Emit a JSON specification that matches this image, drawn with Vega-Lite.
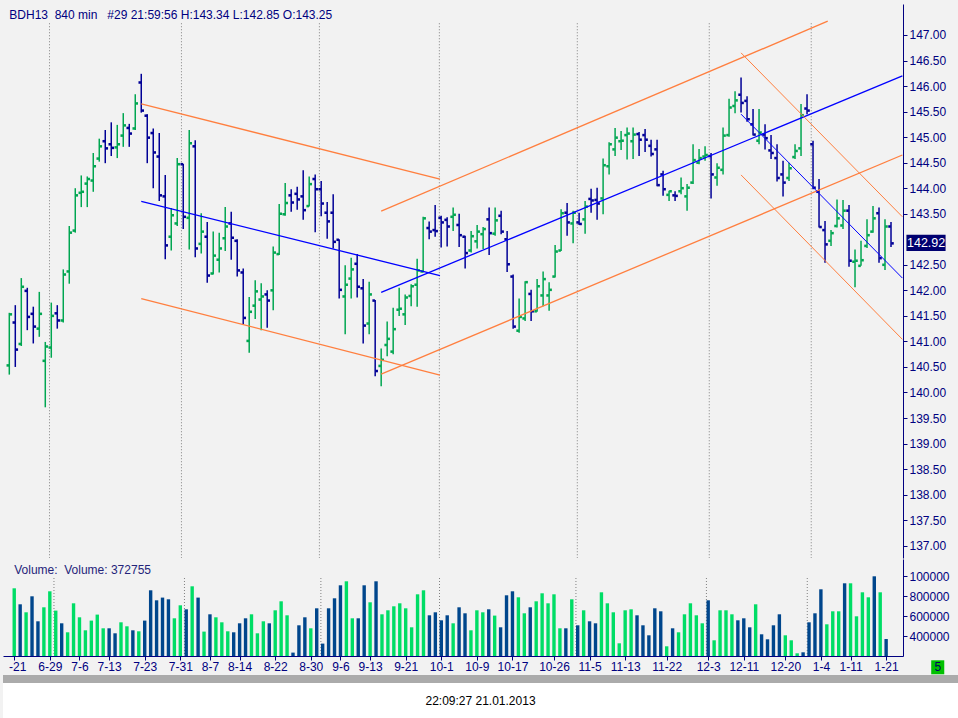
{
"$schema": "https://vega.github.io/schema/vega-lite/v6.json",
"background": "#F2F2F2",
"padding": {"left": 3, "top": 4, "right": 0, "bottom": 0},
"spacing": 0,
"config": {
  "view": {"stroke": null, "fill": "#F2F2F2"},
  "font": "Liberation Sans",
  "axis": {"labelFont": "Liberation Sans", "labelFontSize": 12, "labelColor": "#000080", "tickColor": "#000080", "domainColor": "#000080", "grid": false, "tickSize": 4, "labelPadding": 2, "labelOverlap": false, "labelSeparation": 0, "tickCount": 200}
},
"datasets": {
  "bars": [
{"i":0,"o":140.53,"h":141.56,"l":140.35,"c":141.53,"v":880000},
{"i":1,"o":141.37,"h":141.71,"l":140.50,"c":140.84,"v":720000},
{"i":2,"o":140.95,"h":142.24,"l":140.91,"c":142.07,"v":640000},
{"i":3,"o":141.99,"h":142.05,"l":141.22,"c":141.48,"v":800000},
{"i":4,"o":141.54,"h":141.68,"l":140.96,"c":141.29,"v":550000},
{"i":5,"o":141.25,"h":141.97,"l":141.09,"c":141.54,"v":690000},
{"i":6,"o":140.62,"h":140.99,"l":139.71,"c":140.90,"v":850000},
{"i":7,"o":140.88,"h":141.76,"l":140.68,"c":141.50,"v":657000},
{"i":8,"o":141.55,"h":141.71,"l":141.25,"c":141.41,"v":530000},
{"i":9,"o":141.41,"h":142.41,"l":141.37,"c":142.31,"v":440000},
{"i":10,"o":142.37,"h":143.26,"l":142.13,"c":143.13,"v":730000},
{"i":11,"o":143.17,"h":144.00,"l":143.13,"c":143.86,"v":590000},
{"i":12,"o":143.91,"h":144.25,"l":143.63,"c":143.93,"v":460000},
{"i":13,"o":144.09,"h":144.23,"l":143.63,"c":144.18,"v":557000},
{"i":14,"o":144.15,"h":144.69,"l":143.93,"c":144.43,"v":617000},
{"i":15,"o":144.58,"h":144.97,"l":144.52,"c":144.82,"v":480000},
{"i":16,"o":144.92,"h":145.14,"l":144.49,"c":144.78,"v":480000},
{"i":17,"o":144.86,"h":145.29,"l":144.63,"c":144.79,"v":430000},
{"i":18,"o":144.80,"h":145.24,"l":144.59,"c":144.86,"v":540000},
{"i":19,"o":145.03,"h":145.47,"l":144.81,"c":145.23,"v":500000},
{"i":20,"o":145.18,"h":145.26,"l":144.81,"c":145.07,"v":460000},
{"i":21,"o":145.17,"h":145.84,"l":145.14,"c":145.66,"v":450000},
{"i":22,"o":146.07,"h":146.24,"l":145.48,"c":145.52,"v":557000},
{"i":23,"o":145.42,"h":145.45,"l":144.49,"c":144.99,"v":860000},
{"i":24,"o":145.08,"h":145.17,"l":144.00,"c":144.70,"v":760000},
{"i":25,"o":144.62,"h":145.08,"l":143.75,"c":143.86,"v":787000},
{"i":26,"o":143.84,"h":144.26,"l":142.61,"c":142.88,"v":770000},
{"i":27,"o":143.05,"h":143.61,"l":142.78,"c":143.47,"v":580000},
{"i":28,"o":143.31,"h":144.59,"l":143.26,"c":144.47,"v":710000},
{"i":29,"o":144.47,"h":144.48,"l":143.20,"c":143.44,"v":670000},
{"i":30,"o":143.42,"h":145.14,"l":142.80,"c":144.88,"v":900000},
{"i":31,"o":144.82,"h":144.94,"l":142.65,"c":142.82,"v":787000},
{"i":32,"o":142.91,"h":143.51,"l":142.72,"c":143.15,"v":447000},
{"i":33,"o":143.05,"h":143.34,"l":142.15,"c":142.29,"v":620000},
{"i":34,"o":142.33,"h":143.15,"l":142.31,"c":142.68,"v":590000},
{"i":35,"o":142.60,"h":143.13,"l":142.35,"c":142.82,"v":540000},
{"i":36,"o":143.02,"h":143.63,"l":142.77,"c":143.25,"v":450000},
{"i":37,"o":143.31,"h":143.54,"l":142.60,"c":143.03,"v":440000},
{"i":38,"o":142.97,"h":143.00,"l":142.27,"c":142.39,"v":530000},
{"i":39,"o":142.35,"h":142.43,"l":141.33,"c":141.46,"v":580000},
{"i":40,"o":141.01,"h":141.87,"l":140.78,"c":141.58,"v":620000},
{"i":41,"o":141.70,"h":142.20,"l":141.44,"c":141.98,"v":430000},
{"i":42,"o":141.82,"h":142.14,"l":141.22,"c":141.88,"v":550000},
{"i":43,"o":141.92,"h":142.00,"l":141.27,"c":141.80,"v":530000},
{"i":44,"o":142.00,"h":142.86,"l":141.61,"c":142.74,"v":660000},
{"i":45,"o":142.71,"h":143.69,"l":142.69,"c":143.50,"v":750000},
{"i":46,"o":143.49,"h":144.10,"l":143.46,"c":143.71,"v":610000},
{"i":47,"o":143.86,"h":143.98,"l":143.54,"c":143.72,"v":237000},
{"i":48,"o":143.89,"h":144.03,"l":143.58,"c":143.78,"v":510000},
{"i":49,"o":143.84,"h":144.35,"l":143.38,"c":143.57,"v":590000},
{"i":50,"o":143.65,"h":144.23,"l":143.64,"c":144.08,"v":480000},
{"i":51,"o":144.18,"h":144.27,"l":143.14,"c":143.98,"v":680000},
{"i":52,"o":143.98,"h":144.14,"l":143.45,"c":143.70,"v":327000},
{"i":53,"o":143.52,"h":143.73,"l":143.01,"c":143.35,"v":680000},
{"i":54,"o":143.52,"h":143.88,"l":142.82,"c":142.95,"v":780000},
{"i":55,"o":142.99,"h":143.00,"l":141.84,"c":142.01,"v":910000},
{"i":56,"o":141.88,"h":142.49,"l":141.14,"c":142.11,"v":950000},
{"i":57,"o":142.23,"h":142.64,"l":141.84,"c":142.41,"v":580000},
{"i":58,"o":142.52,"h":142.71,"l":141.86,"c":142.07,"v":580000},
{"i":59,"o":142.04,"h":142.22,"l":140.96,"c":141.31,"v":910000},
{"i":60,"o":141.35,"h":142.17,"l":141.14,"c":141.92,"v":740000},
{"i":61,"o":141.80,"h":141.81,"l":140.32,"c":140.42,"v":950000},
{"i":62,"o":140.52,"h":140.86,"l":140.12,"c":140.64,"v":620000},
{"i":63,"o":140.93,"h":141.39,"l":140.71,"c":141.05,"v":660000},
{"i":64,"o":140.80,"h":141.66,"l":140.75,"c":141.24,"v":700000},
{"i":65,"o":141.62,"h":142.05,"l":141.50,"c":141.64,"v":730000},
{"i":66,"o":141.53,"h":141.92,"l":141.32,"c":141.86,"v":680000},
{"i":67,"o":141.89,"h":142.12,"l":141.69,"c":142.08,"v":490000},
{"i":68,"o":142.11,"h":142.62,"l":141.68,"c":142.39,"v":820000},
{"i":69,"o":142.37,"h":143.44,"l":142.35,"c":143.41,"v":860000},
{"i":70,"o":143.22,"h":143.35,"l":143.00,"c":143.15,"v":610000},
{"i":71,"o":143.18,"h":143.67,"l":143.05,"c":143.16,"v":640000},
{"i":72,"o":143.42,"h":143.46,"l":142.84,"c":143.33,"v":560000},
{"i":73,"o":143.38,"h":143.43,"l":142.86,"c":143.25,"v":610000},
{"i":74,"o":143.44,"h":143.62,"l":143.16,"c":143.48,"v":530000},
{"i":75,"o":143.28,"h":143.50,"l":142.85,"c":143.08,"v":690000},
{"i":76,"o":143.05,"h":143.07,"l":142.43,"c":142.73,"v":630000},
{"i":77,"o":142.78,"h":143.16,"l":142.74,"c":143.06,"v":460000},
{"i":78,"o":142.96,"h":143.28,"l":142.82,"c":143.15,"v":660000},
{"i":79,"o":143.10,"h":143.24,"l":142.81,"c":143.20,"v":640000},
{"i":80,"o":143.39,"h":143.62,"l":142.69,"c":143.12,"v":670000},
{"i":81,"o":143.11,"h":143.62,"l":143.07,"c":143.37,"v":607000},
{"i":82,"o":143.46,"h":143.56,"l":143.10,"c":143.15,"v":490000},
{"i":83,"o":143.00,"h":143.16,"l":142.36,"c":142.51,"v":810000},
{"i":84,"o":142.27,"h":142.31,"l":141.25,"c":141.29,"v":850000},
{"i":85,"o":141.21,"h":141.84,"l":141.17,"c":141.48,"v":790000},
{"i":86,"o":141.45,"h":142.18,"l":141.40,"c":142.16,"v":630000},
{"i":87,"o":141.93,"h":142.01,"l":141.40,"c":141.59,"v":690000},
{"i":88,"o":141.59,"h":142.22,"l":141.58,"c":142.08,"v":750000},
{"i":89,"o":141.90,"h":142.37,"l":141.69,"c":142.22,"v":830000},
{"i":90,"o":141.90,"h":142.16,"l":141.60,"c":142.01,"v":730000},
{"i":91,"o":142.27,"h":142.89,"l":142.25,"c":142.76,"v":820000},
{"i":92,"o":142.78,"h":143.59,"l":142.77,"c":143.51,"v":480000},
{"i":93,"o":143.52,"h":143.71,"l":143.07,"c":143.33,"v":480000},
{"i":94,"o":143.31,"h":143.56,"l":142.92,"c":143.52,"v":770000},
{"i":95,"o":143.33,"h":143.52,"l":143.28,"c":143.30,"v":510000},
{"i":96,"o":143.39,"h":143.75,"l":143.11,"c":143.64,"v":660000},
{"i":97,"o":143.79,"h":143.99,"l":143.52,"c":143.76,"v":550000},
{"i":98,"o":143.77,"h":144.01,"l":143.38,"c":143.70,"v":530000},
{"i":99,"o":143.80,"h":144.58,"l":143.49,"c":144.45,"v":840000},
{"i":100,"o":144.43,"h":144.90,"l":144.27,"c":144.86,"v":730000},
{"i":101,"o":144.76,"h":145.18,"l":144.63,"c":144.99,"v":640000},
{"i":102,"o":144.92,"h":145.12,"l":144.75,"c":144.93,"v":330000},
{"i":103,"o":145.04,"h":145.19,"l":144.56,"c":145.07,"v":660000},
{"i":104,"o":144.92,"h":145.19,"l":144.57,"c":145.05,"v":670000},
{"i":105,"o":145.06,"h":145.10,"l":144.63,"c":144.95,"v":610000},
{"i":106,"o":145.04,"h":145.16,"l":144.71,"c":144.95,"v":510000},
{"i":107,"o":144.83,"h":144.95,"l":144.62,"c":144.67,"v":410000},
{"i":108,"o":144.76,"h":144.95,"l":144.04,"c":144.06,"v":680000},
{"i":109,"o":144.27,"h":144.34,"l":143.85,"c":143.98,"v":650000},
{"i":110,"o":143.87,"h":143.95,"l":143.75,"c":143.94,"v":300000},
{"i":111,"o":143.86,"h":143.94,"l":143.75,"c":143.85,"v":480000},
{"i":112,"o":143.94,"h":144.21,"l":143.88,"c":144.00,"v":440000},
{"i":113,"o":143.84,"h":144.08,"l":143.56,"c":144.01,"v":620000},
{"i":114,"o":144.11,"h":144.86,"l":144.08,"c":144.55,"v":730000},
{"i":115,"o":144.50,"h":144.77,"l":144.47,"c":144.59,"v":610000},
{"i":116,"o":144.62,"h":144.82,"l":144.54,"c":144.65,"v":530000},
{"i":117,"o":144.63,"h":144.69,"l":143.80,"c":144.27,"v":760000},
{"i":118,"o":144.21,"h":144.49,"l":144.05,"c":144.40,"v":360000},
{"i":119,"o":144.36,"h":145.19,"l":144.27,"c":145.03,"v":660000},
{"i":120,"o":145.04,"h":145.75,"l":145.01,"c":145.58,"v":660000},
{"i":121,"o":145.61,"h":145.90,"l":145.47,"c":145.72,"v":620000},
{"i":122,"o":145.83,"h":146.17,"l":145.48,"c":145.67,"v":560000},
{"i":123,"o":145.71,"h":145.80,"l":145.30,"c":145.35,"v":580000},
{"i":124,"o":145.25,"h":145.55,"l":145.03,"c":145.05,"v":490000},
{"i":125,"o":144.93,"h":145.55,"l":144.86,"c":145.09,"v":720000},
{"i":126,"o":145.05,"h":145.25,"l":144.76,"c":144.98,"v":420000},
{"i":127,"o":144.74,"h":145.04,"l":144.57,"c":144.69,"v":370000},
{"i":128,"o":144.59,"h":144.86,"l":144.13,"c":144.20,"v":510000},
{"i":129,"o":144.27,"h":144.54,"l":143.84,"c":144.11,"v":620000},
{"i":130,"o":144.20,"h":144.50,"l":144.14,"c":144.39,"v":410000},
{"i":131,"o":144.61,"h":144.86,"l":144.57,"c":144.73,"v":360000},
{"i":132,"o":144.78,"h":145.65,"l":144.63,"c":145.43,"v":230000},
{"i":133,"o":145.56,"h":145.84,"l":145.45,"c":145.52,"v":240000},
{"i":134,"o":144.86,"h":144.93,"l":143.98,"c":144.01,"v":540000},
{"i":135,"o":143.93,"h":144.18,"l":143.23,"c":143.24,"v":630000},
{"i":136,"o":143.18,"h":143.36,"l":142.54,"c":142.90,"v":870000},
{"i":137,"o":142.97,"h":143.18,"l":142.87,"c":143.12,"v":520000},
{"i":138,"o":143.26,"h":143.78,"l":143.23,"c":143.41,"v":650000},
{"i":139,"o":143.27,"h":143.77,"l":143.20,"c":143.56,"v":650000},
{"i":140,"o":143.56,"h":143.67,"l":142.46,"c":142.58,"v":930000},
{"i":141,"o":142.56,"h":142.80,"l":142.06,"c":142.58,"v":930000},
{"i":142,"o":142.48,"h":142.97,"l":142.48,"c":142.59,"v":600000},
{"i":143,"o":142.87,"h":143.39,"l":142.83,"c":143.08,"v":840000},
{"i":144,"o":143.15,"h":143.65,"l":143.13,"c":143.41,"v":790000},
{"i":145,"o":143.51,"h":143.62,"l":142.54,"c":142.63,"v":1000000},
{"i":146,"o":142.50,"h":143.39,"l":142.40,"c":143.25,"v":840000},
{"i":147,"o":143.25,"h":143.34,"l":142.85,"c":142.92,"v":372755}
  ],
  "lines": [
{"id":"L1","k":"o","s":"L","i":22,"p":145.65},{"id":"L1","k":"o","s":"L","i":71.8,"p":144.18},
{"id":"L2","k":"b","s":"L","i":22,"p":143.74},{"id":"L2","k":"b","s":"L","i":71.8,"p":142.29},
{"id":"L3","k":"o","s":"L","i":22,"p":141.84},{"id":"L3","k":"o","s":"L","i":71.8,"p":140.34},
{"id":"R1","k":"o","s":"R","i":62,"p":143.55},{"id":"R1","k":"o","s":"R","i":136.45,"p":147.27},
{"id":"R2","k":"b","s":"R","i":62,"p":141.96},{"id":"R2","k":"b","s":"R","i":148.9,"p":146.20},
{"id":"R3","k":"o","s":"R","i":62,"p":140.36},{"id":"R3","k":"o","s":"R","i":148.9,"p":144.65},
{"id":"F1","k":"o","s":"F","i":122,"p":146.65},{"id":"F1","k":"o","s":"F","i":148.9,"p":143.44},
{"id":"F2","k":"b","s":"F","i":122,"p":145.45},{"id":"F2","k":"b","s":"F","i":148.9,"p":142.24},
{"id":"F3","k":"o","s":"F","i":122,"p":144.26},{"id":"F3","k":"o","s":"F","i":148.9,"p":141.04}
  ],
  "grid": [{"g":6.7},{"g":28.7},{"g":51.7},{"g":71.7},{"g":94.7},{"g":116.7},{"g":133.7}]
},
"vconcat": [
{
  "width": 900, "height": 554,
  "layer": [
    {"data": {"name": "grid"},
     "mark": {"type": "rule", "color": "#808080", "strokeDash": [1, 2], "strokeWidth": 1},
     "encoding": {
       "x": {"field": "g", "type": "quantitative", "scale": {"domain": [-1.05, 149], "nice": false, "zero": false}, "axis": null},
       "y": {"datum": 147.23, "type": "quantitative", "scale": {"domain": [136.759, 147.607], "nice": false, "zero": false},
             "axis": {"orient": "right", "title": null, "tickCount": 200, "labelOverlap": false, "values": [137,137.5,138,138.5,139,139.5,140,140.5,141,141.5,142,142.5,143.5,144,144.5,145,145.5,146,146.5,147], "format": ".2f"}},
       "y2": {"datum": 136.759}
     }},
    {"data": {"name": "bars"},
     "mark": {"type": "rule", "strokeWidth": 1.5},
     "encoding": {
       "x": {"field": "i", "type": "quantitative"},
       "y": {"field": "l", "type": "quantitative", "title": null},
       "y2": {"field": "h"},
       "color": {"condition": {"test": "datum.c >= datum.o", "value": "#00A651"}, "value": "#000096"}
     }},
    {"data": {"name": "bars"},
     "mark": {"type": "point", "shape": "square", "filled": true, "size": 6.5, "xOffset": -1.5, "strokeWidth": 0, "opacity": 1},
     "encoding": {
       "x": {"field": "i", "type": "quantitative"},
       "y": {"field": "o", "type": "quantitative", "title": null},
       "color": {"condition": {"test": "datum.c >= datum.o", "value": "#00A651"}, "value": "#000096"}
     }},
    {"data": {"name": "bars"},
     "mark": {"type": "point", "shape": "square", "filled": true, "size": 6.5, "xOffset": 1.5, "strokeWidth": 0, "opacity": 1},
     "encoding": {
       "x": {"field": "i", "type": "quantitative"},
       "y": {"field": "c", "type": "quantitative", "title": null},
       "color": {"condition": {"test": "datum.c >= datum.o", "value": "#00A651"}, "value": "#000096"}
     }},
    {"data": {"name": "lines"},
     "transform": [{"filter": "datum.s !== 'F'"}],
     "mark": {"type": "line", "strokeWidth": 1.3},
     "encoding": {
       "x": {"field": "i", "type": "quantitative"},
       "y": {"field": "p", "type": "quantitative", "title": null},
       "detail": {"field": "id"},
       "color": {"field": "k", "type": "nominal", "scale": {"domain": ["o", "b"], "range": ["#FF7F3F", "#0000FF"]}, "legend": null}
     }},
    {"data": {"name": "lines"},
     "transform": [{"filter": "datum.s === 'F'"}],
     "mark": {"type": "line", "strokeWidth": 1},
     "encoding": {
       "x": {"field": "i", "type": "quantitative"},
       "y": {"field": "p", "type": "quantitative", "title": null},
       "detail": {"field": "id"},
       "color": {"field": "k", "type": "nominal", "scale": {"domain": ["o", "b"], "range": ["#FF7F3F", "#0000FF"]}, "legend": null}
     }},
    {"data": {"values": [{"t": "BDH13\u00a0 840 min\u00a0 \u00a0#29 21:59:56 H:143.34 L:142.85 O:143.25"}]},
     "mark": {"type": "text", "align": "left", "baseline": "middle", "fontSize": 12, "color": "#000080", "font": "Liberation Sans"},
     "encoding": {
       "x": {"datum": 0, "type": "quantitative"},
       "y": {"datum": 147.39, "type": "quantitative"},
       "text": {"field": "t"}
     }},
    {"data": {"values": [{"p": 142.92}]},
     "mark": {"type": "rect", "color": "#000070"},
     "encoding": {
       "x": {"datum": 149.57, "type": "quantitative"},
       "x2": {"datum": 156.1},
       "y": {"datum": 143.09, "type": "quantitative"},
       "y2": {"datum": 142.77}
     }},
    {"data": {"values": [{"p": 142.92}]},
     "mark": {"type": "text", "align": "center", "baseline": "middle", "fontSize": 12.5, "color": "#FFFFFF", "font": "Liberation Sans"},
     "encoding": {
       "x": {"datum": 152.85, "type": "quantitative"},
       "y": {"field": "p", "type": "quantitative"},
       "text": {"field": "p", "format": ".2f"}
     }}
  ]
},
{
  "width": 900, "height": 97,
  "layer": [
    {"data": {"name": "grid"},
     "mark": {"type": "rule", "color": "#808080", "strokeDash": [1, 2], "strokeWidth": 1},
     "encoding": {
       "x": {"field": "g", "type": "quantitative", "scale": {"domain": [-1.05, 149], "nice": false, "zero": false},
             "axis": {"orient": "bottom", "title": null, "tickCount": 200, "values": [0,6,11,16,22,28,33,38,44,50,55,60,66,72,78,84,91,97,103,110,117,123,130,136,141,147],
                      "labelExpr": "['-21','6-29','7-6','7-13','7-23','7-31','8-7','8-14','8-22','8-30','9-6','9-13','9-21','10-1','10-9','10-17','10-26','11-5','11-13','11-22','12-3','12-11','12-20','1-4','1-11','1-21'][indexof([0,6,11,16,22,28,33,38,44,50,55,60,66,72,78,84,91,97,103,110,117,123,130,136,141,147], datum.value)]",
                      "labelFlush": false, "labelOverlap": false, "labelPadding": 1,
                      "labelOffset": {"condition": {"test": "datum.value === 0", "value": 3}, "value": 0}}},
       "y": {"datum": 983000, "type": "quantitative", "scale": {"domain": [203000, 1173000], "nice": false, "zero": false},
             "axis": {"orient": "right", "title": null, "tickCount": 200, "labelOverlap": false, "values": [400000, 600000, 800000, 1000000], "labelExpr": "datum.value === 1000000 ? '100000' : format(datum.value, 'd')"}},
       "y2": {"datum": 203000}
     }},
    {"data": {"name": "bars"},
     "mark": {"type": "bar", "size": 3.4},
     "encoding": {
       "x": {"field": "i", "type": "quantitative"},
       "y": {"field": "v", "type": "quantitative", "title": null},
       "y2": {"datum": 203000},
       "color": {"condition": {"test": "datum.c >= datum.o", "value": "#00DD66"}, "value": "#00468C"}
     }},
    {"data": {"values": [{"t": "Volume:\u00a0 Volume: 372755"}]},
     "mark": {"type": "text", "align": "left", "baseline": "middle", "fontSize": 12, "color": "#24247A", "font": "Liberation Sans"},
     "encoding": {
       "x": {"datum": 0, "type": "quantitative"},
       "y": {"datum": 1067000, "type": "quantitative"},
       "text": {"field": "t"}
     }},
    {"data": {"values": [{"n": "5"}]},
     "mark": {"type": "rect", "color": "#00C000"},
     "encoding": {
       "x": {"datum": 154.6, "type": "quantitative"},
       "x2": {"datum": 156.8},
       "y": {"datum": 160000, "type": "quantitative"},
       "y2": {"datum": 20000}
     }},
    {"data": {"values": [{"n": "5"}]},
     "mark": {"type": "text", "align": "center", "baseline": "middle", "fontSize": 12, "color": "#000060", "font": "Liberation Sans"},
     "encoding": {
       "x": {"datum": 155.7, "type": "quantitative"},
       "y": {"datum": 90000, "type": "quantitative"},
       "text": {"field": "n"}
     }}
  ]
},
{
  "width": 955, "height": 44,
  "view": {"fill": "#FFFFFF", "stroke": null},
  "layer": [
    {"data": {"values": [{"a": 0, "b": 1, "t": 0, "u": 8}]},
     "mark": {"type": "rect", "color": "#ABABAB"},
     "encoding": {
       "x": {"field": "a", "type": "quantitative", "scale": {"domain": [0, 1], "nice": false, "zero": false}, "axis": null},
       "x2": {"field": "b"},
       "y": {"field": "t", "type": "quantitative", "scale": {"domain": [0, 44], "reverse": true, "nice": false, "zero": false}, "axis": null},
       "y2": {"field": "u"}
     }},
    {"data": {"values": [{"t": "22:09:27 21.01.2013"}]},
     "mark": {"type": "text", "align": "center", "baseline": "middle", "fontSize": 12, "color": "#000000", "font": "Liberation Sans"},
     "encoding": {
       "x": {"datum": 0.5, "type": "quantitative"},
       "y": {"datum": 26, "type": "quantitative"},
       "text": {"field": "t"}
     }}
  ]
}
]
}
